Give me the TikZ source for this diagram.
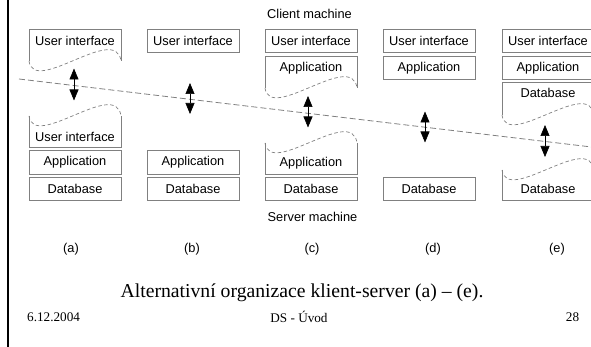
\documentclass[tikz,border=0pt]{standalone}
\usepackage{fontspec}
\setmainfont{Liberation Serif}
\setsansfont{Liberation Sans}
\usetikzlibrary{arrows.meta}
\definecolor{EdgeGray}{RGB}{128,128,128}

\begin{document}
\begin{tikzpicture}[x=1pt,y=-1pt,
        layer/.style={draw=EdgeGray,line width=0.8pt,inner sep=0pt,
                      minimum width=92pt,minimum height=23.5pt,
                      font=\sffamily\fontsize{12.8}{14}\selectfont},
        tag/.style={inner sep=0pt,font=\sffamily\fontsize{12.8}{14}\selectfont},
        side/.style={draw=EdgeGray,line width=0.8pt},
        cut/.style={draw=EdgeGray,line width=0.7pt,dash pattern=on 3.5pt off 2.5pt},
        split/.style={draw=EdgeGray,line width=0.8pt,dash pattern=on 6pt off 3pt},
        link/.style={{Triangle[length=11pt,width=9pt]}-{Triangle[length=11pt,width=9pt]},
                     line width=0.6pt},
        foot/.style={inner sep=0pt,font=\fontsize{13.2}{15}\selectfont}]
        \useasboundingbox (0,0) rectangle (591,347);
        \draw[line width=2.6pt] (7.8,0) -- (7.8,347);
        \node[tag] (client) at (309.5,14) {Client machine};
        \node[tag] (server) at (312.5,217) {Server machine};

        % (a)
        \draw[side] (29,61) -- (29,29) -- (121,29) -- (121,61);
        \draw[cut] (29,61) .. controls (34,96) and (116,23) .. (121,61);
        \node[tag] (a-ui-c) at (75,41) {User interface};
        \draw[side] (29,116) -- (29,147.5) -- (121,147.5) -- (121,116);
        \draw[cut] (29,116) .. controls (34,151) and (116,78) .. (121,116);
        \node[tag] (a-ui-s) at (75,136.5) {User interface};
        \node[layer] (a-app) at (75,162.3) {Application};
        \node[layer] (a-db) at (75,188.7) {Database};

        % (b)
        \node[layer] (b-ui) at (193,41) {User interface};
        \node[layer] (b-app) at (193,162.3) {Application};
        \node[layer] (b-db) at (193,188.7) {Database};

        % (c)
        \node[layer] (c-ui) at (311,41) {User interface};
        \draw[side] (265,88) -- (265,56) -- (357,56) -- (357,88);
        \draw[cut] (265,88) .. controls (270,123) and (352,50) .. (357,88);
        \node[tag] (c-app-c) at (311,67.7) {Application};
        \draw[side] (265,143) -- (265,174) -- (357,174) -- (357,143);
        \draw[cut] (265,143) .. controls (270,178) and (352,105) .. (357,143);
        \node[tag] (c-app-s) at (311,163) {Application};
        \node[layer] (c-db) at (311,188.7) {Database};

        % (d)
        \node[layer] (d-ui) at (429,41) {User interface};
        \node[layer] (d-app) at (429,67.7) {Application};
        \node[layer] (d-db) at (429,188.7) {Database};

        % (e)
        \node[layer] (e-ui) at (548,41) {User interface};
        \node[layer] (e-app) at (548,67.7) {Application};
        \draw[side] (502,115) -- (502,82.5) -- (594,82.5) -- (594,115);
        \draw[cut] (502,115) .. controls (507,150) and (589,77) .. (594,115);
        \node[tag] (e-db-c) at (548,93) {Database};
        \draw[side] (502,170) -- (502,200.5) -- (594,200.5) -- (594,170);
        \draw[cut] (502,170) .. controls (507,205) and (589,132) .. (594,170);
        \node[tag] (e-db-s) at (548,189) {Database};

        % client/server split
        \coordinate (split-l) at (19,79);
        \coordinate (split-r) at (600,148);
        \draw[split] (split-l) -- (split-r);

        \coordinate (a-hi) at (74,68.5);   \coordinate (a-lo) at (74,100.5);
        \coordinate (b-hi) at (190,83);    \coordinate (b-lo) at (190,114);
        \coordinate (c-hi) at (308,96);    \coordinate (c-lo) at (308,127.5);
        \coordinate (d-hi) at (425,111.5); \coordinate (d-lo) at (425,142.5);
        \coordinate (e-hi) at (545,125);   \coordinate (e-lo) at (545,157);
        \draw[link] (a-hi) -- (a-lo);
        \draw[link] (b-hi) -- (b-lo);
        \draw[link] (c-hi) -- (c-lo);
        \draw[link] (d-hi) -- (d-lo);
        \draw[link] (e-hi) -- (e-lo);

        \node[tag] (lbl-a) at (71,249) {(a)};
        \node[tag] (lbl-b) at (192,249) {(b)};
        \node[tag] (lbl-c) at (312,249) {(c)};
        \node[tag] (lbl-d) at (433,249) {(d)};
        \node[tag] (lbl-e) at (557,249) {(e)};

        \node[inner sep=0pt,font=\fontsize{19.7}{22}\selectfont] (caption) at (302,293)
            {Alternativní organizace klient-server (a) -- (e).};
        \node[foot,anchor=west] (date) at (27,317) {6.12.2004};
        \node[foot] (course) at (299,317) {DS - Úvod};
        \node[foot] (page) at (572.5,317) {28};
      \end{tikzpicture}
\end{document}
